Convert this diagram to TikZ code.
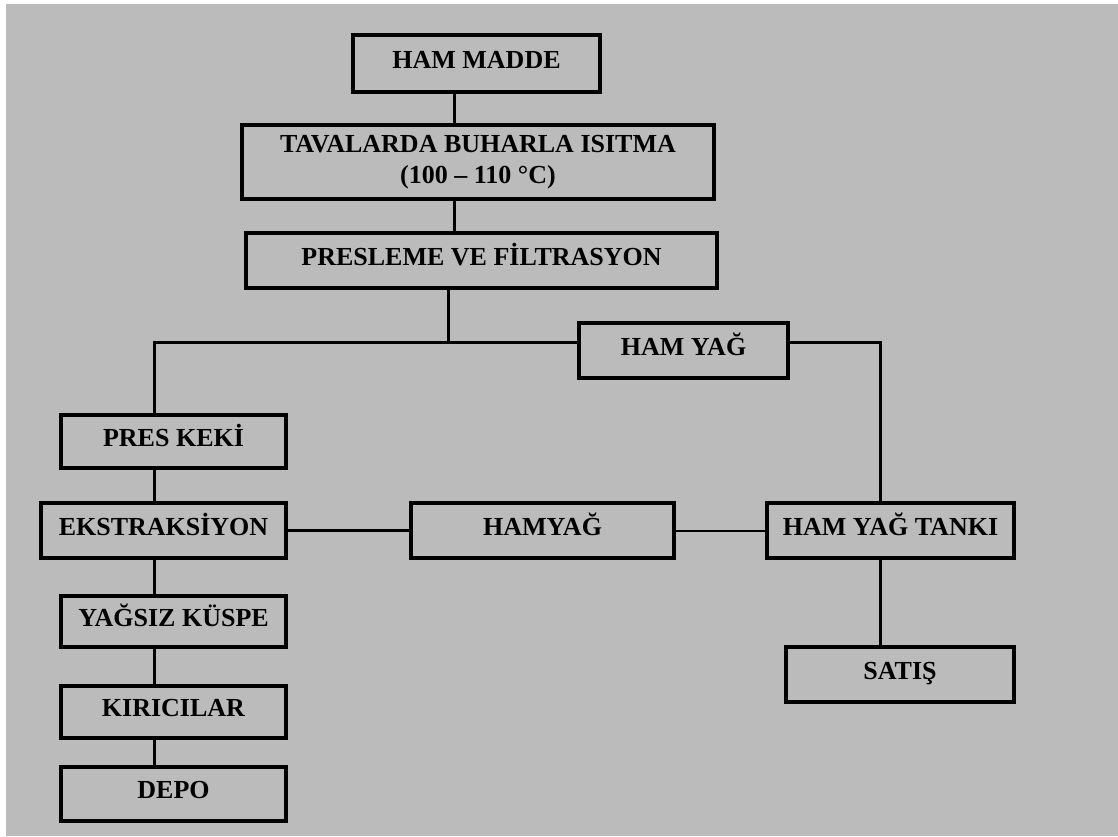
\documentclass[tikz,border=0pt]{standalone}
\usepackage{fontspec}
\setmainfont{Liberation Serif}
\usetikzlibrary{positioning}
\definecolor{PanelGray}{RGB}{187,187,187}

\begin{document}
\begin{tikzpicture}[x=0.5pt,y=-0.5pt,
    kutu/.style={draw,line width=1.6pt,inner sep=0pt,align=center,
      font=\bfseries\fontsize{13}{15.5}\selectfont,text height=0.68em,text depth=0.2em},
    hat/.style={line width=1.5pt},
    ince/.style={line width=1pt}]
  \useasboundingbox (0,0) rectangle (1118,836);
  \fill[white] (0,0) rectangle (1118,836);
  \fill[PanelGray] (6,4) rectangle (1118,836);
  % ana hat
  \node[kutu,minimum width=123.5pt,minimum height=28.5pt] (madde) at (476.5,63.5) {HAM MADDE};
  \node[kutu,minimum width=236pt,minimum height=37pt,text height={},text depth={}] (isitma) at (478,162)
    {TAVALARDA BUHARLA ISITMA\\(100 – 110 °C)};
  \node[kutu,minimum width=235.5pt,minimum height=27.5pt] (pres) at (481.5,260.5) {PRESLEME VE FİLTRASYON};
  \node[kutu,minimum width=104.5pt,minimum height=27.5pt] (hamyag) at (683.5,350.5) {HAM YAĞ};
  % sol kol
  \node[kutu,minimum width=112.5pt,minimum height=26.5pt] (kek) at (173.5,441.5) {PRES KEKİ};
  \node[kutu,minimum width=122.5pt,minimum height=27.5pt] (ekstr) at (163.5,530.5) {EKSTRAKSİYON};
  \node[kutu,minimum width=112.5pt,minimum height=25.5pt] (kuspe) at (173.5,621.5) {YAĞSIZ KÜSPE};
  \node[kutu,minimum width=112.5pt,minimum height=26pt] (kirici) at (173.5,712) {KIRICILAR};
  \node[kutu,minimum width=112.5pt,minimum height=27pt] (depo) at (173.5,794) {DEPO};
  % sag kol
  \node[kutu,minimum width=131.5pt,minimum height=27.5pt] (hyag) at (542.5,530.5) {HAMYAĞ};
  \node[kutu,minimum width=123.5pt,minimum height=27.5pt] (tank) at (890.5,530.5) {HAM YAĞ TANKI};
  \node[kutu,minimum width=114pt,minimum height=27.5pt] (satis) at (900,674.5) {SATIŞ};
  % baglantilar
  \coordinate (ust) at (454,0);
  \coordinate (ayrim) at (448,342);
  \coordinate (sol) at (154,342);
  \coordinate (sag) at (880,342);
  \draw[hat] (madde.south -| ust) -- (isitma.north -| ust);
  \draw[hat] (isitma.south -| ust) -- (pres.north -| ust);
  \draw[hat] (pres.south -| ayrim) -- (ayrim);
  \draw[hat] (hamyag.west |- ayrim) -- (sol) -- (kek.north -| sol);
  \draw[hat] (hamyag.east |- ayrim) -- (sag) -- (tank.north -| sag);
  \foreach \a/\b in {kek/ekstr,ekstr/kuspe,kuspe/kirici,kirici/depo}
    \draw[hat] (\a.south -| sol) -- (\b.north -| sol);
  \draw[hat] (ekstr.east) -- (hyag.west);
  \draw[ince] (hyag.east) -- (tank.west);
  \draw[hat] (tank.south -| sag) -- (satis.north -| sag);
\end{tikzpicture}
\end{document}
